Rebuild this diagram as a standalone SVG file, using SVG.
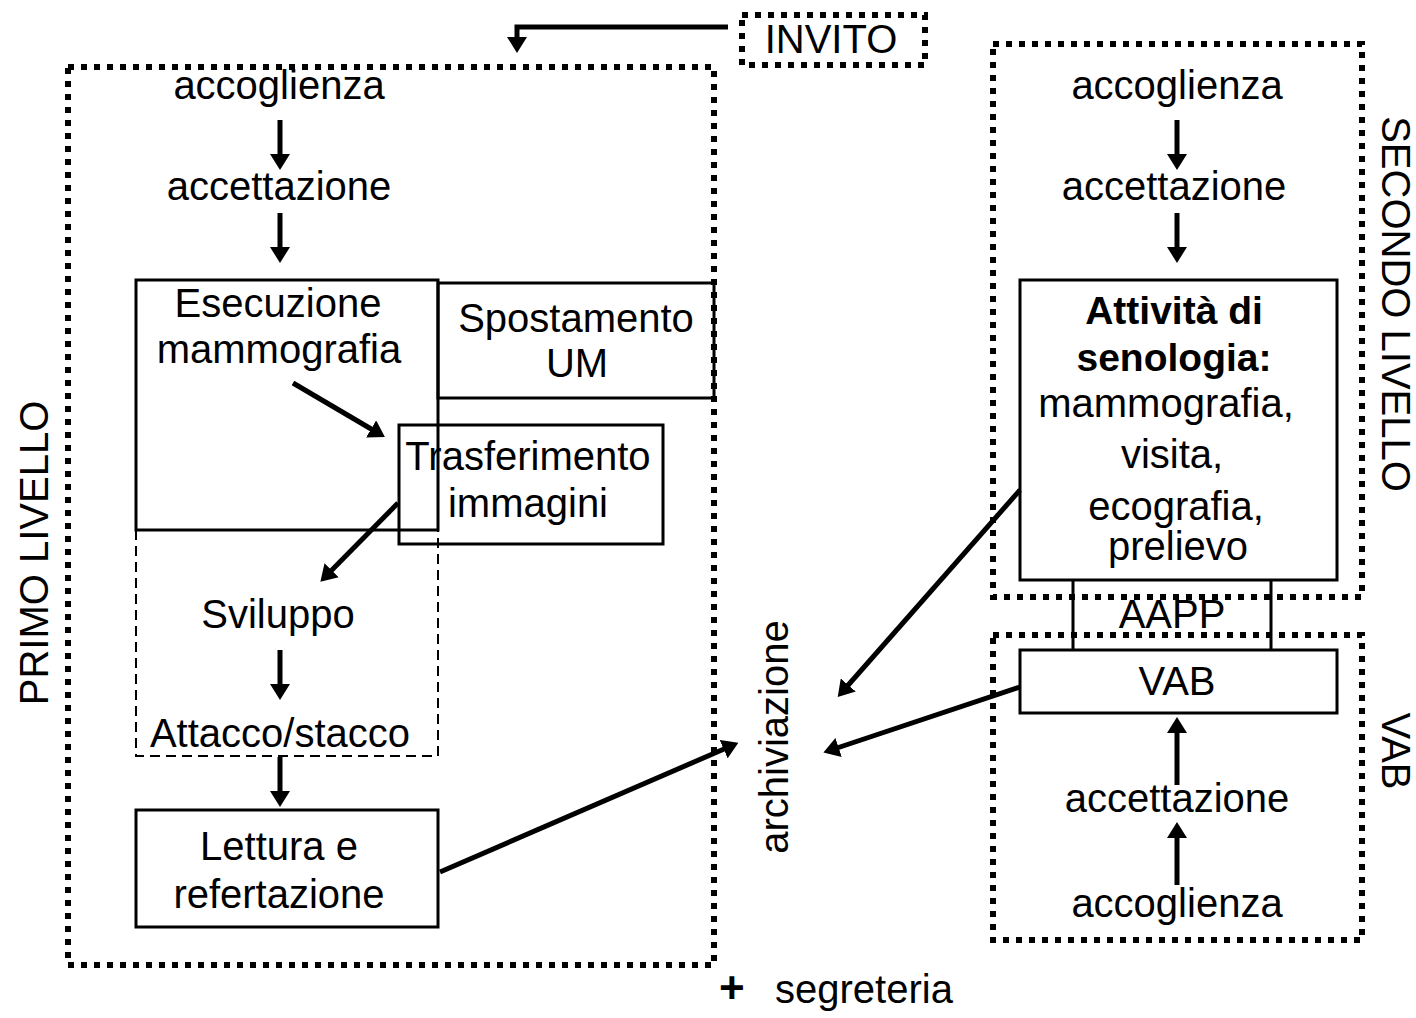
<svg xmlns="http://www.w3.org/2000/svg" width="1416" height="1018" viewBox="0 0 1416 1018">
  <style>
    text { font-family: "Liberation Sans", Arial, sans-serif; font-size: 40px; fill: #000; }
    .c { text-anchor: middle; }
    .b { font-weight: bold; font-size: 39px; }
    .box { fill: none; stroke: #000; stroke-width: 3; }
    .dash { fill: none; stroke: #000; stroke-width: 2; stroke-dasharray: 10 6; }
    .dot { fill: none; stroke: #000; stroke-width: 6; stroke-dasharray: 6 7; }
    .arr { fill: none; stroke: #000; stroke-width: 5; marker-end: url(#head); }
  </style>
  <defs>
    <marker id="head" viewBox="0 0 16 20" refX="8" refY="10" markerWidth="16" markerHeight="20" markerUnits="userSpaceOnUse" orient="auto">
      <path d="M0 0 L16 10 L0 20 Z" fill="#000"/>
    </marker>
  </defs>
  <rect width="1416" height="1018" fill="#fff"/>

  <!-- first level area -->
  <g id="primo-livello">
    <rect class="dot" x="68" y="67" width="646" height="898"/>
    <text class="c" transform="translate(48,553) rotate(-90)">PRIMO LIVELLO</text>
  </g>

  <g id="invito">
    <rect class="dot" x="742" y="15" width="183" height="50"/>
    <text class="c" x="831" y="53">INVITO</text>
  </g>

  <g id="accoglienza-1">
    <text class="c" x="279" y="99">accoglienza</text>
  </g>
  <g id="accettazione-1">
    <text class="c" x="279" y="200">accettazione</text>
  </g>

  <g id="esecuzione">
    <rect class="box" x="136" y="280" width="302" height="250"/>
    <text class="c" x="278" y="317">Esecuzione</text>
    <text class="c" x="279" y="363">mammografia</text>
  </g>

  <g id="spostamento">
    <rect class="box" x="438" y="283" width="276" height="115"/>
    <text class="c" x="576" y="332">Spostamento</text>
    <text class="c" x="577" y="377">UM</text>
  </g>

  <g id="trasferimento">
    <rect class="box" x="399" y="425" width="264" height="119"/>
    <text class="c" x="528" y="470">Trasferimento</text>
    <text class="c" x="528" y="517">immagini</text>
  </g>

  <g id="sviluppo">
    <path class="dash" d="M136 530 V756 H438 V530"/>
    <text class="c" x="278" y="628">Sviluppo</text>
    <text class="c" x="280" y="747">Attacco/stacco</text>
  </g>

  <g id="lettura">
    <rect class="box" x="136" y="810" width="302" height="117"/>
    <text class="c" x="279" y="860">Lettura e</text>
    <text class="c" x="279" y="908">refertazione</text>
  </g>

  <g id="archiviazione">
    <text class="c" transform="translate(788,737) rotate(-90)">archiviazione</text>
  </g>

  <g id="segreteria">
    <text class="b" x="719" y="1003" style="font-size:44px">+</text>
    <text x="775" y="1003">segreteria</text>
  </g>

  <!-- second level area -->
  <g id="secondo-livello">
    <rect class="dot" x="993" y="44" width="369" height="553"/>
    <text class="c" transform="translate(1382,304) rotate(90)">SECONDO LIVELLO</text>
  </g>
  <g id="accoglienza-2">
    <text class="c" x="1177" y="99">accoglienza</text>
  </g>
  <g id="accettazione-2">
    <text class="c" x="1174" y="200">accettazione</text>
  </g>

  <g id="attivita">
    <rect class="box" x="1020" y="280" width="317" height="300"/>
    <text class="c b" x="1174" y="324">Attività di</text>
    <text class="c b" x="1174" y="371">senologia:</text>
    <text class="c" x="1166" y="417">mammografia,</text>
    <text class="c" x="1172" y="468">visita,</text>
    <text class="c" x="1176" y="520">ecografia,</text>
    <text class="c" x="1178" y="560">prelievo</text>
  </g>

  <g id="aapp">
    <path class="box" d="M1073 580 V650 M1271 580 V650"/>
    <text class="c" x="1172" y="628">AAPP</text>
  </g>

  <!-- VAB area -->
  <g id="vab-area">
    <rect class="dot" x="993" y="635" width="369" height="305"/>
    <text class="c" transform="translate(1382,751) rotate(90)">VAB</text>
  </g>
  <g id="vab">
    <rect class="box" x="1020" y="650" width="317" height="63"/>
    <text class="c" x="1177" y="695">VAB</text>
  </g>
  <g id="accettazione-3">
    <text class="c" x="1177" y="812">accettazione</text>
  </g>
  <g id="accoglienza-3">
    <text class="c" x="1177" y="917">accoglienza</text>
  </g>

  <g id="connectors">
    <path class="arr" d="M728 27 H517 V45"/>
    <line class="arr" x1="280" y1="120" x2="280" y2="162"/>
    <line class="arr" x1="280" y1="213" x2="280" y2="255"/>
    <line class="arr" x1="293" y1="383" x2="378" y2="433"/>
    <line class="arr" x1="398" y1="503" x2="326" y2="576"/>
    <line class="arr" x1="280" y1="650" x2="280" y2="692"/>
    <line class="arr" x1="280" y1="757" x2="280" y2="799"/>
    <line class="arr" x1="440" y1="872" x2="731" y2="746"/>
    <line class="arr" x1="1177" y1="120" x2="1177" y2="162"/>
    <line class="arr" x1="1177" y1="213" x2="1177" y2="255"/>
    <line class="arr" x1="1020" y1="490" x2="843" y2="691"/>
    <line class="arr" x1="1020" y1="687" x2="831" y2="750"/>
    <line class="arr" x1="1177" y1="785" x2="1177" y2="725"/>
    <line class="arr" x1="1177" y1="885" x2="1177" y2="830"/>
  </g>
</svg>
